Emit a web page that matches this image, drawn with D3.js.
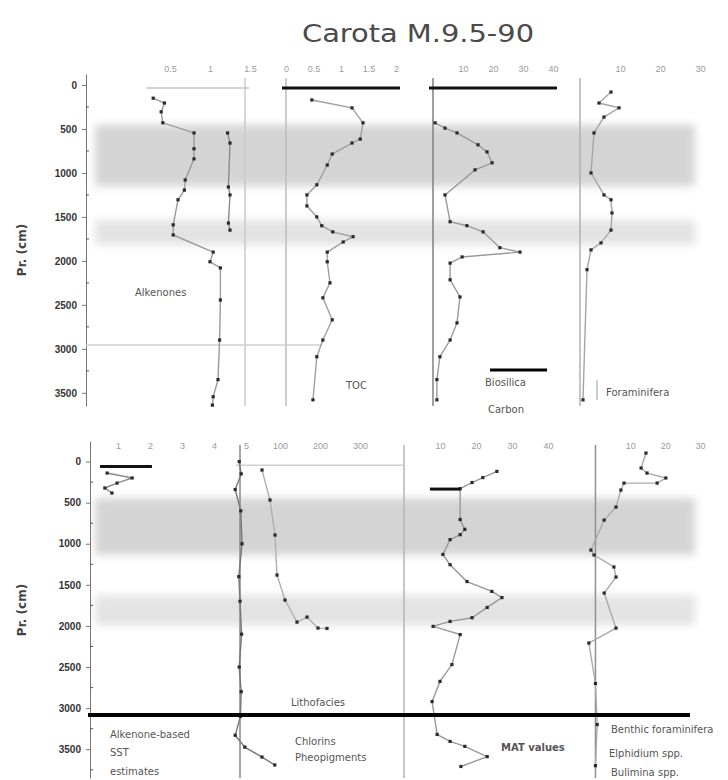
<!DOCTYPE html>
<html>
<head>
<meta charset="utf-8">
<script src="https://cdn.jsdelivr.net/npm/d3@7"></script>
<style>
body { margin: 0; background: #fff; font-family: "DejaVu Sans", "Liberation Sans", sans-serif; }
.tk text { fill: #9a9a9a; font-size: 9px; }
.yax text { fill: #333; font-size: 10px; font-weight: bold; }
.yax line, .yax path { stroke: #777; }
.lbl { fill: #555; font-size: 10px; }
</style>
</head>
<body>
<div class="cont"></div>
<script>
// depth labels (cm) and shaded horizons
var depthTicks = [0, 500, 1000, 1500, 2000, 2500, 3000, 3500];
var topBands = [[455, 1150], [1535, 1820]];
var botBands = [[445, 1135], [1625, 1990]];
var topRuleDepth = 2955;
var botRuleDepth = 3084;

// top panel series (depth cm / value)
var alkDepth = [150, 205, 305, 430, 545, 725, 840, 1080, 1195, 1305, 1590, 1705, 1900, 2010, 2080, 2445, 2900, 3350, 3545, 3640];
var alkVal = [0.29, 0.43, 0.39, 0.41, 0.80, 0.80, 0.80, 0.69, 0.68, 0.60, 0.54, 0.54, 1.04, 1.0, 1.13, 1.13, 1.12, 1.10, 1.04, 1.03];
var alk2Depth = [545, 660, 1160, 1250, 1570, 1650];
var alk2Val = [1.22, 1.25, 1.23, 1.25, 1.23, 1.25];
var tocDepth = [170, 260, 430, 615, 660, 785, 910, 1135, 1250, 1375, 1500, 1600, 1670, 1725, 1785, 1900, 2010, 2250, 2420, 2670, 2900, 3090, 3580];
var tocVal = [0.47, 1.2, 1.4, 1.35, 1.2, 0.84, 0.75, 0.56, 0.38, 0.38, 0.56, 0.65, 0.85, 1.22, 1.04, 0.75, 0.75, 0.8, 0.67, 0.84, 0.67, 0.56, 0.49];
var bsiDepth = [430, 490, 545, 680, 760, 885, 965, 1250, 1555, 1600, 1670, 1850, 1900, 1955, 2025, 2215, 2410, 2705, 2900, 3090, 3350, 3580];
var bsiVal = [0.7, 4, 8, 15, 18, 19.7, 14, 4, 5.7, 11.3, 16.7, 22.3, 29, 9.7, 5.7, 5.7, 9, 8, 5.7, 2.3, 1.3, 1.3];
var forDepth = [80, 205, 260, 365, 545, 1000, 1250, 1305, 1455, 1650, 1795, 1875, 2100, 3580];
var forVal = [7.75, 4.75, 9.75, 6, 3.5, 2.75, 6, 7.75, 8, 7.75, 5.25, 2.75, 1.75, 0.75];

// bottom panel series
var sstDepth = [140, 200, 262, 322, 383];
var sstVal = [0.66, 1.44, 0.97, 0.59, 0.81];
var chlDepth = [0, 150, 340, 600, 1000, 1400, 1700, 2100, 2500, 2800, 3100, 3330, 3474, 3595, 3692];
var chlVal = [-2, 3, -12, 2, 5, -3, 0, 4, -2, 3, 1, -12, 12, 55, 87];
var pheDepth = [103, 468, 894, 1381, 1685, 1953, 1892, 2026, 2030];
var pheVal = [55, 75, 87.5, 92.5, 112.5, 142.5, 167.5, 195, 217.5];
var matDepth = [120, 195, 255, 330, 705, 825, 890, 950, 1130, 1255, 1460, 1580, 1655, 1775, 1900, 1945, 2005, 2105, 2470, 2675, 2920, 3320, 3405, 3465, 3590, 3710];
var matVal = [25.8, 21.9, 18.9, 15.6, 15.6, 16.9, 15.6, 12.8, 10.8, 12.8, 17.5, 24.4, 27.2, 23.1, 18.9, 12.8, 8.1, 15.6, 13.3, 10, 7.8, 9.2, 12.8, 16.9, 23.1, 15.8];
var benDepth = [-103, 79, 140, 200, 262, 262, 347, 554, 712, 1077, 1137, 1283, 1405, 1600, 2026, 2208, 2700, 3200, 3700];
var benVal = [14.5, 13.1, 14.8, 20.2, 17.7, 8.2, 7.3, 5.9, 2.5, -1.3, -0.4, 5.3, 5.9, 2.5, 5.9, -1.9, 0, 0.5, 0];
// core-top bars: depth, from, to
var sstBar = [60, 0.44, 2.06];
var matBar = [335, 7.2, 15.6];

// tick labels on column tops
var alkTicks = [0.5, 1, 1.5], tocTicks = [0, 0.5, 1, 1.5, 2], bsiTicks = [10, 20, 30, 40], forTicks = [10, 20, 30];
var sstTicks = [1, 2, 3, 4, 5], chlTicks = [100, 200, 300], matTicks = [10, 20, 30, 40], benTicks = [10, 20, 30];

var w = 728, h = 780;
var svg = d3.select(".cont").append("svg").attr("width", w).attr("height", h);
var defs = svg.append("defs");
defs.append("filter").attr("id", "soft").attr("x", "-5%").attr("y", "-40%").attr("width", "110%").attr("height", "180%")
  .append("feGaussianBlur").attr("stdDeviation", 4);

var yTop = d3.scaleLinear().domain([-125, 3650]).range([74, 406]);
var yBot = d3.scaleLinear().domain([-250, 3850]).range([441, 778]);

var xA = d3.scaleLinear().domain([0.25, 1.4375]).range([150, 245]);
var xB = d3.scaleLinear().domain([0, 2]).range([286, 396]);
var xC = d3.scaleLinear().domain([0, 40]).range([433, 553]);
var xD = d3.scaleLinear().domain([0, 30]).range([580, 700]);
var xE = d3.scaleLinear().domain([0, 5]).range([86, 246]);
var xF = d3.scaleLinear().domain([0, 400]).range([240, 400]);
var xG = d3.scaleLinear().domain([0, 50]).range([404, 584]);
var xH = d3.scaleLinear().domain([-3, 30]).range([585, 700]);

// title
svg.append("text").attr("x", 418).attr("y", 42).attr("text-anchor", "middle")
  .attr("font-size", 25).attr("fill", "#4a4a4a")
  .attr("font-family", "'Liberation Sans Narrow', 'DejaVu Sans Condensed', 'Liberation Sans', sans-serif")
  .attr("textLength", 232).attr("lengthAdjust", "spacingAndGlyphs")
  .text("Carota M.9.5-90");

// shaded horizons
function bands(data, y) {
  svg.append("g").selectAll("rect").data(data).enter().append("rect")
    .attr("x", 95).attr("width", 600)
    .attr("y", function (d) { return y(d[0]); })
    .attr("height", function (d) { return y(d[1]) - y(d[0]); })
    .attr("fill", function (d, i) { return i == 0 ? "#d4d4d4" : "#e3e3e3"; })
    .attr("filter", "url(#soft)");
}
bands(topBands, yTop);
bands(botBands, yBot);

// depth axes
function depthAxis(y, x0, cy) {
  var minor = d3.range(250, 3800, 500);
  svg.append("g").attr("class", "yax").attr("transform", "translate(" + x0 + ",0)")
    .call(d3.axisLeft(y).tickValues(depthTicks).tickFormat(d3.format("d")).tickSize(4).tickSizeOuter(0).tickPadding(5));
  svg.append("g").attr("transform", "translate(" + x0 + ",0)").selectAll("line")
    .data(minor.filter(function (d) { return d < y.domain()[1]; })).enter().append("line")
    .attr("x1", 0).attr("x2", 3).attr("y1", y).attr("y2", y).attr("stroke", "#555");
  svg.append("text").attr("transform", "translate(26," + cy + ") rotate(-90)")
    .attr("text-anchor", "middle").attr("font-size", 12).attr("font-weight", "bold").attr("fill", "#444")
    .text("Pr. (cm)");
}
depthAxis(yTop, 86, 250);
depthAxis(yBot, 90, 610);

// column frame: baseline line + top tick labels
function frame(x, y, base, ticks, ty, col, fmt) {
  var r = y.range();
  if (col) {
    svg.append("line").attr("x1", x(base)).attr("x2", x(base)).attr("y1", r[0] + 4).attr("y2", r[1])
      .attr("stroke", col).attr("stroke-width", 1.5);
  }
  svg.append("g").attr("class", "tk").attr("transform", "translate(0," + ty + ")")
    .call(d3.axisTop(x).tickValues(ticks).tickFormat(d3.format(fmt || "")).tickSize(0).tickPadding(0))
    .select(".domain").remove();
}
frame(xA, yTop, 1.4375, alkTicks, 72, "#c8c8c8");
frame(xB, yTop, 0, tocTicks, 72, "#bdbdbd");
frame(xC, yTop, 0, bsiTicks, 72, "#808080");
frame(xD, yTop, 0, forTicks, 72, "#b0b0b0");
frame(xE, yBot, 5, sstTicks, 449, null, "d");
frame(xF, yBot, 0, chlTicks, 449, "#8a8a8a", "d");
frame(xG, yBot, 0, matTicks, 449, "#b5b5b5", "d");
frame(xH, yBot, 0, benTicks, 449, "#909090", "d");

// top rules of columns
function rule(x, y, d, col, sw) {
  var r = x.range();
  svg.append("line").attr("x1", r[0] - 4).attr("x2", r[1] + 4).attr("y1", y(d)).attr("y2", y(d))
    .attr("stroke", col).attr("stroke-width", sw);
}
rule(xA, yTop, 35, "#c4c4c4", 1.5);
rule(xB, yTop, 35, "#111", 3);
rule(xC, yTop, 35, "#111", 3);
rule(xF, yBot, 45, "#cfcfcf", 1.5);

// horizon line, upper panel
svg.append("line").attr("x1", 86).attr("x2", xB(0.65)).attr("y1", yTop(topRuleDepth)).attr("y2", yTop(topRuleDepth))
  .attr("stroke", "#cfcfcf").attr("stroke-width", 1.5);

function series(x, y, depths, vals, stroke) {
  var pts = depths.map(function (d, i) { return [x(vals[i]), y(d)]; });
  svg.append("path").attr("d", d3.line()(pts)).attr("fill", "none")
    .attr("stroke", stroke).attr("stroke-width", 1.4);
  svg.append("g").selectAll("rect").data(pts).enter().append("rect")
    .attr("x", function (p) { return p[0] - 1.6; }).attr("y", function (p) { return p[1] - 1.6; })
    .attr("width", 3.2).attr("height", 3.2).attr("fill", "#2a2a2a");
}
function bar(x, y, b) {
  svg.append("line").attr("x1", x(b[1])).attr("x2", x(b[2])).attr("y1", y(b[0])).attr("y2", y(b[0]))
    .attr("stroke", "#111").attr("stroke-width", 3);
}

series(xA, yTop, alkDepth, alkVal, "#9a9a9a");
series(xA, yTop, alk2Depth, alk2Val, "#8a8a8a");
series(xB, yTop, tocDepth, tocVal, "#a0a0a0");
series(xC, yTop, bsiDepth, bsiVal, "#9a9a9a");
series(xD, yTop, forDepth, forVal, "#a5a5a5");

series(xE, yBot, sstDepth, sstVal, "#888");
bar(xE, yBot, sstBar);
series(xF, yBot, chlDepth, chlVal, "#777");
series(xF, yBot, pheDepth, pheVal, "#b0b0b0");
series(xG, yBot, matDepth, matVal, "#999");
bar(xG, yBot, matBar);
series(xH, yBot, benDepth, benVal, "#aaa");

// thick horizon in lower panel
svg.append("line").attr("x1", 88).attr("x2", 690).attr("y1", yBot(botRuleDepth)).attr("y2", yBot(botRuleDepth))
  .attr("stroke", "#000").attr("stroke-width", 4);

// labels
function txt(x, y, s, size, col, weight) {
  svg.append("text").attr("x", x).attr("y", y).attr("class", "lbl")
    .attr("font-size", size || 10).attr("fill", col || "#555").attr("font-weight", weight || "normal").text(s);
}
txt(135, 296, "Alkenones", 11, "#444");
txt(346, 389, "TOC", 11, "#444");
svg.append("line").attr("x1", 490).attr("x2", 547).attr("y1", 370).attr("y2", 370).attr("stroke", "#000").attr("stroke-width", 3);
txt(485, 386, "Biosilica", 11, "#555");
txt(488, 413, "Carbon", 11, "#555");
svg.append("line").attr("x1", 597).attr("x2", 597).attr("y1", 380).attr("y2", 400).attr("stroke", "#999");
txt(606, 396, "Foraminifera", 11, "#555");

txt(110, 738, "Alkenone-based", 10, "#777");
txt(110, 756, "SST", 10, "#777");
txt(110, 775, "estimates", 10, "#888");
txt(291, 706, "Lithofacies", 11, "#555");
txt(295, 745, "Chlorins", 10, "#777");
txt(295, 761, "Pheopigments", 10, "#888");
txt(501, 751, "MAT values", 12, "#555", "bold");
txt(611, 733, "Benthic foraminifera", 10, "#888");
txt(609, 757, "Elphidium spp.", 10, "#777");
txt(611, 776, "Bulimina spp.", 10, "#999");
</script>
</body>
</html>
